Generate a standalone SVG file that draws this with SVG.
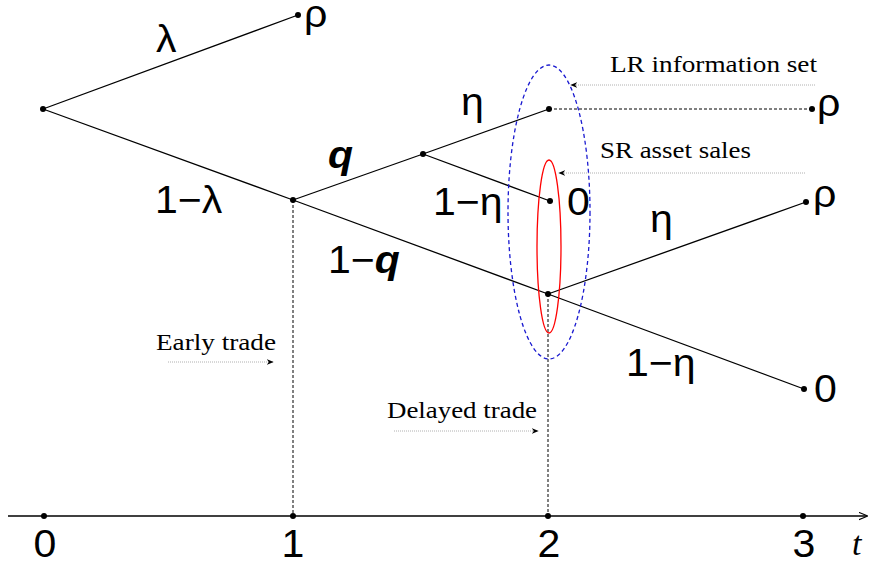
<svg xmlns="http://www.w3.org/2000/svg" width="870" height="567" viewBox="0 0 870 567">
  <defs>
    <style>
      .edge { stroke: #000; stroke-width: 1.3; fill: none; }
      .dot-line { stroke: #000; stroke-width: 1; stroke-dasharray: 3 2; fill: none; }
      .pointer { stroke: #b0b0b0; stroke-width: 1; stroke-dasharray: 1 1; fill: none; }
      .node { fill: #000; }
      .math { font-family: "Liberation Sans", Arial, sans-serif; font-size: 38px; fill: #000; }
      .note { font-family: "Liberation Serif", "Times New Roman", serif; font-size: 24px; fill: #000; }
    </style>
    <marker id="ah" viewBox="0 0 10 10" refX="9" refY="5" markerWidth="7" markerHeight="7" markerUnits="userSpaceOnUse" orient="auto">
      <path d="M0,1 L10,5 L0,9 L3,5 Z" fill="#000"/>
    </marker>
    <marker id="axh" viewBox="0 0 10 10" refX="9" refY="5" markerWidth="9" markerHeight="9" markerUnits="userSpaceOnUse" orient="auto">
      <path d="M0,1 L10,5 L0,9" fill="none" stroke="#000" stroke-width="1.3"/>
    </marker>
  </defs>
  <rect width="870" height="567" fill="#fff"/>

  <g id="connectors">
    <line class="edge" x1="43" y1="109" x2="298" y2="15"/>
    <line class="edge" x1="43" y1="109" x2="293" y2="200"/>
    <line class="edge" x1="293" y1="200" x2="548" y2="294"/>
    <line class="edge" x1="548" y1="294" x2="804" y2="389"/>
    <line class="edge" x1="293" y1="200" x2="423" y2="154"/>
    <line class="edge" x1="423" y1="154" x2="549" y2="109"/>
    <line class="edge" x1="423" y1="154" x2="550" y2="201"/>
    <line class="edge" x1="548" y1="294" x2="806" y2="202"/>
    <line class="dot-line" x1="549" y1="109" x2="812" y2="109"/>
    <line class="dot-line" x1="293" y1="200" x2="293" y2="516"/>
    <line class="dot-line" x1="548" y1="294" x2="548" y2="516"/>
    <line x1="8" y1="516" x2="867" y2="516" stroke="#000" stroke-width="1.3" marker-end="url(#axh)"/>
    <line class="pointer" x1="815" y1="85" x2="571" y2="85" marker-end="url(#ah)"/>
    <line class="pointer" x1="805" y1="173" x2="559" y2="173" marker-end="url(#ah)"/>
    <line class="pointer" x1="168" y1="362" x2="273" y2="362" marker-end="url(#ah)"/>
    <line class="pointer" x1="394" y1="431" x2="538" y2="431" marker-end="url(#ah)"/>
  </g>

  <g id="info-sets">
    <ellipse id="lr-set" cx="549" cy="212" rx="41" ry="147" fill="none" stroke="#1a1ad0" stroke-width="1.3" stroke-dasharray="4 3"/>
    <ellipse id="sr-set" cx="549" cy="246.5" rx="12" ry="86.5" fill="none" stroke="#ff0000" stroke-width="1.3"/>
  </g>

  <g id="n-root"><circle class="node" cx="43" cy="109" r="3"/></g>
  <g id="n-rho1"><circle class="node" cx="298" cy="15" r="3"/>
    <text class="math" transform="translate(304 27) scale(1.08 1)">ρ</text></g>
  <g id="n-t1"><circle class="node" cx="293" cy="200" r="3"/></g>
  <g id="n-q"><circle class="node" cx="423" cy="154" r="3"/></g>
  <g id="n-eta-top"><circle class="node" cx="549" cy="109" r="3"/></g>
  <g id="n-zero-mid"><circle class="node" cx="550" cy="201" r="3"/>
    <text class="math" transform="translate(567 215) scale(1.08 1)">0</text></g>
  <g id="n-t2"><circle class="node" cx="548" cy="294" r="3"/></g>
  <g id="n-rho-top"><circle class="node" cx="812" cy="109" r="3"/>
    <text class="math" transform="translate(817 116) scale(1.08 1)">ρ</text></g>
  <g id="n-rho-low"><circle class="node" cx="806" cy="202" r="3"/>
    <text class="math" transform="translate(813 207) scale(1.08 1)">ρ</text></g>
  <g id="n-zero-low"><circle class="node" cx="804" cy="389" r="3"/>
    <text class="math" transform="translate(814 402) scale(1.08 1)">0</text></g>

  <g id="edge-labels">
    <text class="math" transform="translate(156 52) scale(1.08 1)">λ</text>
    <text class="math" transform="translate(155 213) scale(1.08 1)">1−λ</text>
    <text class="math" transform="translate(328 168) scale(1.08 1)" font-weight="bold" font-style="italic">q</text>
    <text class="math" transform="translate(328 273) scale(1.08 1)">1−<tspan font-weight="bold" font-style="italic">q</tspan></text>
    <text class="math" transform="translate(461 115) scale(1.08 1)">η</text>
    <text class="math" transform="translate(433 215) scale(1.08 1)">1−η</text>
    <text class="math" transform="translate(650 232) scale(1.08 1)">η</text>
    <text class="math" transform="translate(626 376) scale(1.08 1)">1−η</text>
  </g>

  <g id="notes">
    <text class="note" x="610" y="72" textLength="207" lengthAdjust="spacingAndGlyphs">LR information set</text>
    <text class="note" x="600" y="158" textLength="151" lengthAdjust="spacingAndGlyphs">SR asset sales</text>
    <text class="note" x="156" y="350" textLength="120" lengthAdjust="spacingAndGlyphs">Early trade</text>
    <text class="note" x="387" y="418" textLength="150" lengthAdjust="spacingAndGlyphs">Delayed trade</text>
  </g>

  <g id="axis">
    <circle class="node" cx="44" cy="516" r="3"/>
    <circle class="node" cx="293" cy="516" r="3"/>
    <circle class="node" cx="548" cy="516" r="3"/>
    <circle class="node" cx="803" cy="516" r="3"/>
    <text class="math" text-anchor="middle" transform="translate(45 557) scale(1.08 1)">0</text>
    <text class="math" text-anchor="middle" transform="translate(293 557) scale(1.08 1)">1</text>
    <text class="math" text-anchor="middle" transform="translate(549 557) scale(1.08 1)">2</text>
    <text class="math" text-anchor="middle" transform="translate(804 557) scale(1.08 1)">3</text>
    <text transform="translate(852 555)" font-family="Liberation Serif, Times New Roman, serif" font-style="italic" font-size="34">t</text>
  </g>
</svg>
